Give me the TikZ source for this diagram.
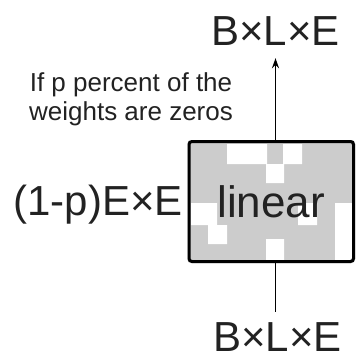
\documentclass[tikz,border=0pt]{standalone}
\usepackage{fontspec}
\setmainfont{Liberation Sans}
\usetikzlibrary{arrows.meta,backgrounds}
\definecolor{boxgray}{HTML}{CCCCCC}
\definecolor{ink}{HTML}{222222}

\tikzstyle{lbl} = [inner sep=0pt, text=ink]
\tikzstyle{layer} = [draw, line width=3pt, rounded corners=3pt, minimum width=164.5pt, minimum height=120pt, inner sep=0pt, text=ink]
\tikzstyle{wire} = [line width=1.5pt]

\begin{document}
\begin{tikzpicture}[x=1pt, y=-1pt]
\useasboundingbox (0,0) rectangle (356,356);
\node[layer, font=\fontsize{44}{44}\selectfont] (lin) at (271.25,201.5) {linear};
\node[lbl, anchor=base, font=\fontsize{42}{42}\selectfont] (out) at (275.5,45) {B×L×E};
\node[lbl, anchor=base, font=\fontsize{42}{42}\selectfont] (in) at (277.5,351) {B×L×E};
\node[lbl, anchor=base east, font=\fontsize{42}{42}\selectfont] (dims) at (183,215) {(1-p)E×E};
\node[lbl, align=center, font=\fontsize{26}{29}\selectfont] (note) at (131,99) {If p percent of the\\weights are zeros};
% sparse weights: grey = kept, white = zero
\begin{scope}[on background layer]
\fill[boxgray, rounded corners=3pt] (lin.south west) rectangle (lin.north east);
\fill[white] (227,144) rectangle (267,164)
             (283,144) rectangle (302,164)
             (266,164) rectangle (284,183)
             (191,203) rectangle (217,225)
             (208,225) rectangle (227,244)
             (266,239) rectangle (284,260)
             (298,203) rectangle (317,225)
             (335,203) rectangle (353,260);
\end{scope}
\draw[wire, -{Stealth[length=10pt,width=7pt]}, shorten >=13pt] (lin.north -| out.south) -- (out.south);
\draw[wire, shorten >=10pt] (lin.south -| out.south) -- (in.north -| out.south);
\end{tikzpicture}
\end{document}
